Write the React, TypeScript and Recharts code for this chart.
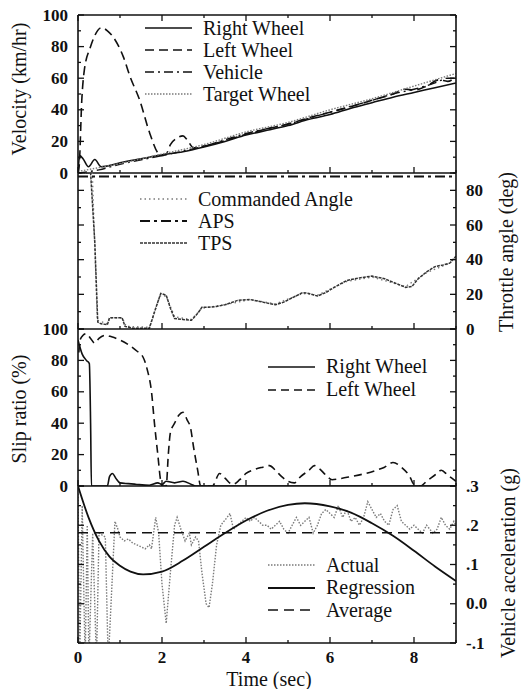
import React from 'react';
import { LineChart, Line, XAxis, YAxis, Legend } from 'recharts';

// time (sec) / value pairs, one list per trace
const velRightWheel: [number, number][] = [
  [0, 0], [0.04, 11], [0.12, 9], [0.25, 4], [0.4, 8.5], [0.55, 4], [0.8, 5], [1.0, 6.5], [1.5, 9],
  [2.0, 11.5], [2.5, 13.5], [3.0, 16.5], [3.5, 20], [4.0, 24], [4.5, 27], [5.0, 30], [5.5, 34],
  [6.0, 37], [6.5, 41], [7.0, 44.5], [7.5, 48], [8.0, 51], [8.5, 54], [9.0, 57],
];
const velLeftWheel: [number, number][] = [
  [0, 0], [0.03, 5], [0.09, 46], [0.15, 65], [0.3, 80], [0.4, 87], [0.56, 92], [0.7, 90], [0.84, 86],
  [1.08, 73.5], [1.24, 61], [1.47, 46], [1.71, 25], [1.91, 12.4], [2.0, 11], [2.1, 12], [2.2, 18],
  [2.35, 22], [2.5, 23.5], [2.6, 21], [2.75, 16], [3.0, 17], [3.5, 20.5], [4.0, 24.5], [4.5, 28],
  [5.0, 31], [5.5, 35], [6.0, 38.5], [6.5, 42], [7.0, 46], [7.5, 50], [7.8, 53], [8.0, 52.5],
  [8.3, 55], [8.6, 59], [8.8, 58], [9.0, 61],
];
const velVehicle: [number, number][] = [
  [0, 0], [0.5, 2], [1.0, 5.5], [2.0, 11], [3.0, 17], [4.0, 25], [5.0, 31], [6.0, 38.5],
  [7.0, 46], [7.5, 50], [8.0, 53], [8.5, 57], [8.8, 60], [9.0, 60],
];
const velTarget: [number, number][] = [
  [0, 1], [1, 6], [2, 12], [3, 18], [4, 26], [5, 32], [6, 40], [7, 47], [8, 55], [9, 63],
];

const thrCommanded: [number, number][] = [
  [0, 90], [0.34, 90], [0.46, 5], [0.7, 3], [0.76, 6.5], [1.05, 6.5], [1.15, 1.5], [1.7, 1],
  [1.95, 19], [2.1, 19], [2.3, 7], [2.7, 5.5], [2.95, 12], [3.5, 14], [4.1, 17], [4.7, 14.5],
  [5.35, 20.5], [5.7, 19.5], [6.4, 27.5], [7.0, 30], [7.8, 24.5], [8.3, 32.5], [8.85, 38], [9.0, 41],
];
const thrAPS: [number, number][] = [[0, 88], [9, 88]];
const thrTPS: [number, number][] = [
  [0, 90], [0.3, 90], [0.4, 50], [0.47, 4], [0.55, 3], [0.7, 2.5], [0.75, 6.5], [1.05, 6.5],
  [1.12, 1.5], [1.3, 0.5], [1.7, 0.5], [1.85, 12], [1.97, 20.5], [2.1, 19.5], [2.2, 12], [2.3, 6],
  [2.5, 5.5], [2.7, 5], [2.85, 9], [2.95, 12.5], [3.1, 12.5], [3.3, 13], [3.5, 14], [3.8, 16.5],
  [4.1, 17], [4.4, 15.5], [4.7, 14], [4.9, 15.5], [5.1, 18], [5.35, 21], [5.5, 20.5], [5.7, 19],
  [5.9, 21], [6.1, 24], [6.4, 28], [6.7, 29.5], [7.0, 30.5], [7.3, 29], [7.6, 26], [7.8, 24],
  [7.95, 24.5], [8.1, 29], [8.3, 33], [8.5, 36], [8.7, 37], [8.85, 38], [9.0, 42],
];

const slipRightWheel: [number, number][] = [
  [0, 93], [0.03, 90], [0.1, 84], [0.2, 80], [0.27, 78], [0.3, 40], [0.32, 0], [0.7, 0], [0.75, 6],
  [0.82, 8], [0.9, 5], [1.0, 2], [1.2, 1.5], [1.4, 1], [1.7, 0.5], [1.9, 2], [2.0, 1], [2.1, 3],
  [2.3, 2], [2.5, 3], [2.7, 1], [2.8, 0], [9.0, 0],
];
const slipLeftWheel: [number, number][] = [
  [0.02, 85], [0.05, 93], [0.12, 96], [0.2, 97], [0.3, 94], [0.4, 91], [0.5, 94], [0.65, 96],
  [0.8, 95], [1.0, 93], [1.2, 90], [1.4, 86], [1.55, 82], [1.65, 74], [1.75, 60], [1.82, 40],
  [1.9, 20], [1.97, 3], [2.0, 0], [2.1, 0], [2.15, 20], [2.2, 34], [2.3, 40], [2.4, 45], [2.5, 47],
  [2.6, 42], [2.68, 37], [2.75, 25], [2.85, 10], [2.92, 0], [3.2, 0], [3.37, 8], [3.5, 5],
  [3.68, 1], [3.85, 4], [4.0, 8], [4.2, 10.5], [4.4, 12], [4.56, 13], [4.7, 10], [4.85, 6],
  [5.0, 3], [5.15, 2], [5.3, 6], [5.5, 10], [5.63, 13], [5.75, 11], [5.9, 7], [6.05, 4],
  [6.2, 4.5], [6.5, 6], [6.85, 8], [7.1, 10], [7.3, 12], [7.5, 15], [7.7, 12], [7.9, 6], [8.0, 1],
  [8.15, 0], [8.3, 3], [8.5, 7], [8.65, 10], [8.8, 7], [9.0, 3],
];

const accActual: [number, number][] = [
  [0, 0.28], [0.04, -0.15], [0.1, 0.25], [0.17, -0.15], [0.22, 0.2], [0.26, -0.15], [0.35, 0.18],
  [0.44, -0.15], [0.5, 0.18], [0.65, 0.17], [0.72, -0.15], [0.88, 0.21], [0.95, 0.19], [1.0, 0.17],
  [1.1, 0.16], [1.2, 0.165], [1.3, 0.155], [1.4, 0.15], [1.5, 0.145], [1.6, 0.14], [1.7, 0.15],
  [1.75, 0.14], [1.85, 0.22], [1.92, 0.18], [2.0, 0.05], [2.1, -0.05], [2.2, 0.08], [2.3, 0.2],
  [2.36, 0.22], [2.45, 0.19], [2.55, 0.16], [2.65, 0.18], [2.7, 0.15], [2.8, 0.17], [2.87, 0.16],
  [2.95, 0.08], [3.05, 0.0], [3.12, -0.01], [3.2, 0.05], [3.3, 0.15], [3.4, 0.2], [3.55, 0.22],
  [3.62, 0.23], [3.7, 0.19], [3.8, 0.2], [3.9, 0.21], [4.0, 0.22], [4.1, 0.21], [4.2, 0.22],
  [4.3, 0.21], [4.4, 0.2], [4.5, 0.2], [4.6, 0.19], [4.7, 0.2], [4.8, 0.21], [4.9, 0.19],
  [5.0, 0.18], [5.1, 0.2], [5.2, 0.22], [5.3, 0.2], [5.4, 0.21], [5.5, 0.22], [5.6, 0.18],
  [5.7, 0.2], [5.8, 0.23], [5.9, 0.24], [6.0, 0.23], [6.1, 0.22], [6.2, 0.25], [6.3, 0.22],
  [6.4, 0.24], [6.5, 0.21], [6.6, 0.22], [6.7, 0.2], [6.8, 0.22], [6.9, 0.26], [7.0, 0.24],
  [7.1, 0.22], [7.2, 0.23], [7.3, 0.21], [7.4, 0.2], [7.5, 0.24], [7.6, 0.25], [7.7, 0.21],
  [7.8, 0.2], [7.9, 0.19], [8.0, 0.2], [8.1, 0.19], [8.2, 0.18], [8.3, 0.2], [8.45, 0.18],
  [8.55, 0.19], [8.65, 0.22], [8.75, 0.2], [8.85, 0.19], [8.95, 0.21], [9.0, 0.2],
];
const accRegression: [number, number][] = [
  [0, 0.3], [0.25, 0.22], [0.5, 0.16], [0.75, 0.12], [1.0, 0.097], [1.25, 0.082], [1.55, 0.075],
  [2.0, 0.082], [2.5, 0.11], [3.0, 0.145], [3.5, 0.18], [4.0, 0.212], [4.5, 0.237], [5.0, 0.252],
  [5.4, 0.256], [6.0, 0.248], [6.5, 0.232], [7.0, 0.205], [7.5, 0.173], [8.0, 0.135], [8.5, 0.095],
  [9.0, 0.058],
];
const accAverage: [number, number][] = [[0, 0.181], [9, 0.181]];

const timeTicks = [0, 1, 2, 3, 4, 5, 6, 7, 8, 9];
const pctTicks = [0, 10, 20, 30, 40, 50, 60, 70, 80, 90, 100];
const throttleTicks = [0, 10, 20, 30, 40, 50, 60, 70, 80, 90];
const accTicks = [-0.1, -0.05, 0, 0.05, 0.1, 0.15, 0.2, 0.25, 0.3];
const accLabels: Record<string, string> = { '-0.1': '-.1', '0': '0.0', '0.1': '.1', '0.2': '.2', '0.3': '.3' };

const W = 523;
const H = 689;
const PL = 78;
const PR = 456;
const FONT = '"Liberation Serif", "Times New Roman", serif';
const INK = '#111';
const GREY = '#7a7a7a';

const pts = (a: [number, number][]) => a.map(([t, v]) => ({ t, v }));

type Series = { name: string; data: [number, number][]; stroke: string; width: number; dash?: string; curve?: 'linear' | 'monotone' };

const isMajor = (v: number, step: number) => Math.abs(v / step - Math.round(v / step)) < 1e-6;

const yTick = (side: 'left' | 'right', step: number, labels: boolean, fmt?: (v: number) => string) => (props: any) => {
  const { y, payload } = props;
  const v = payload.value as number;
  const major = isMajor(v, step);
  const x0 = side === 'left' ? PL : PR;
  const dir = side === 'left' ? 1 : -1;
  return (
    <g>
      <line x1={x0} x2={x0 + dir * (major ? 6 : 3)} y1={y} y2={y} stroke={INK} strokeWidth={1.3} />
      {labels && major && (
        <text x={side === 'left' ? PL - 10 : PR + 10} y={y} textAnchor={side === 'left' ? 'end' : 'start'}
          dominantBaseline="central" fontFamily={FONT} fontWeight="bold" fontSize={17} fill={INK}>
          {fmt ? fmt(v) : v}
        </text>
      )}
    </g>
  );
};

const xTick = (edge: number, dir: number, labels: boolean) => (props: any) => {
  const { x, payload } = props;
  const v = payload.value as number;
  const major = isMajor(v, 2);
  return (
    <g>
      <line x1={x} x2={x} y1={edge} y2={edge + dir * (major ? 6 : 3)} stroke={INK} strokeWidth={1.3} />
      {labels && major && v < 9 && (
        <text x={x} y={edge + 14} textAnchor="middle" dominantBaseline="central"
          fontFamily={FONT} fontWeight="bold" fontSize={17} fill={INK}>{v}</text>
      )}
    </g>
  );
};

const vTitle = (text: string, x: number, y: number) => () => (
  <text x={x} y={y} transform={`rotate(-90 ${x} ${y})`} textAnchor="middle" dominantBaseline="central"
    fontFamily={FONT} fontSize={20} fill={INK}>{text}</text>
);

const LegendRows = ({ items, gap }: { items: Series[]; gap: number }) => (
  <div style={{ fontFamily: FONT, fontSize: 20, color: INK }}>
    {items.map((s) => (
      <div key={s.name} style={{ display: 'flex', alignItems: 'center', height: gap, whiteSpace: 'nowrap' }}>
        <svg width={58} height={6} style={{ flex: 'none' }}>
          <line x1={0} x2={47} y1={3} y2={3} stroke={s.stroke} strokeWidth={s.width} strokeDasharray={s.dash} />
        </svg>
        <span>{s.name}</span>
      </div>
    ))}
  </div>
);

type PanelProps = {
  top: number; bottom: number; domain: [number, number]; ticks: number[]; step: number;
  leftLabels?: boolean; rightLabels?: boolean; fmt?: (v: number) => string;
  series: Series[]; legendAt: { left: number; top: number; gap: number };
  topAxis?: boolean; xLabels?: boolean; leftTitle?: [string, number, number]; rightTitle?: [string, number, number];
};

const Panel = (p: PanelProps) => {
  const margin = { left: PL - 10, right: W - PR - 10, top: p.topAxis ? p.top - 10 : p.top, bottom: H - p.bottom - 10 };
  return (
    <div style={{ position: 'absolute', left: 0, top: 0 }}>
      <LineChart width={W} height={H} margin={margin}>
        {p.topAxis && (
          <XAxis xAxisId="top" orientation="top" type="number" dataKey="t" domain={[0, 9]} allowDataOverflow
            ticks={timeTicks} interval={0} height={10} tickLine={false} tick={xTick(p.top, 1, false)}
            axisLine={{ stroke: INK, strokeWidth: 1.6 }} />
        )}
        <XAxis xAxisId="x" type="number" dataKey="t" domain={[0, 9]} allowDataOverflow ticks={timeTicks}
          interval={0} height={10} tickLine={false} tick={xTick(p.bottom, -1, !!p.xLabels)}
          axisLine={{ stroke: INK, strokeWidth: 1.6 }}
          label={p.xLabels ? () => (
            <text x={269} y={679} textAnchor="middle" dominantBaseline="central" fontFamily={FONT} fontSize={20} fill={INK}>Time (sec)</text>
          ) : undefined} />
        <YAxis yAxisId="l" type="number" domain={p.domain} allowDataOverflow ticks={p.ticks} interval={0}
          width={10} tickLine={false} tick={yTick('left', p.step, !!p.leftLabels, p.fmt)}
          axisLine={{ stroke: INK, strokeWidth: 1.6 }}
          label={p.leftTitle ? vTitle(...p.leftTitle) : undefined} />
        <YAxis yAxisId="r" orientation="right" type="number" domain={p.domain} allowDataOverflow ticks={p.ticks}
          interval={0} width={10} tickLine={false} tick={yTick('right', p.step, !!p.rightLabels, p.fmt)}
          axisLine={{ stroke: INK, strokeWidth: 1.6 }}
          label={p.rightTitle ? vTitle(...p.rightTitle) : undefined} />
        {p.series.map((s) => (
          <Line key={s.name} xAxisId="x" yAxisId="l" data={pts(s.data)} dataKey="v" name={s.name}
            type={s.curve || 'linear'} stroke={s.stroke} strokeWidth={s.width} strokeDasharray={s.dash}
            dot={false} activeDot={false} isAnimationActive={false} />
        ))}
        <Legend layout="vertical" align="center" verticalAlign="middle"
          wrapperStyle={{ left: p.legendAt.left, top: p.legendAt.top, width: 'auto', height: 'auto' }}
          content={() => <LegendRows items={p.series} gap={p.legendAt.gap} />} />
      </LineChart>
    </div>
  );
};

const velocitySeries: Series[] = [
  { name: 'Right Wheel', data: velRightWheel, stroke: INK, width: 1.6, curve: 'monotone' },
  { name: 'Left Wheel', data: velLeftWheel, stroke: INK, width: 1.6, dash: '9 5', curve: 'monotone' },
  { name: 'Vehicle', data: velVehicle, stroke: INK, width: 1.4, dash: '9 4 2 4', curve: 'monotone' },
  { name: 'Target Wheel', data: velTarget, stroke: GREY, width: 1.4, dash: '1.5 1.5', curve: 'monotone' },
];
const throttleSeries: Series[] = [
  { name: 'Commanded Angle', data: thrCommanded, stroke: GREY, width: 1.4, dash: '1.5 3' },
  { name: 'APS', data: thrAPS, stroke: INK, width: 2, dash: '10 4 3 4' },
  { name: 'TPS', data: thrTPS, stroke: '#333', width: 1.5, dash: '3 1' },
];
const slipSeries: Series[] = [
  { name: 'Right Wheel', data: slipRightWheel, stroke: INK, width: 1.6, curve: 'monotone' },
  { name: 'Left Wheel', data: slipLeftWheel, stroke: INK, width: 1.6, dash: '8 5', curve: 'monotone' },
];
const accelSeries: Series[] = [
  { name: 'Actual', data: accActual, stroke: GREY, width: 1.4, dash: '1.5 1.5' },
  { name: 'Regression', data: accRegression, stroke: INK, width: 1.8, curve: 'monotone' },
  { name: 'Average', data: accAverage, stroke: INK, width: 1.6, dash: '10 6' },
];

export default function App() {
  return (
    <div style={{ position: 'absolute', left: 0, top: 0, width: W, height: H, background: '#fff' }}>
      <Panel top={15} bottom={173} domain={[0, 100]} ticks={pctTicks} step={20} leftLabels topAxis
        series={velocitySeries} legendAt={{ left: 145, top: 17, gap: 22 }}
        leftTitle={['Velocity (km/hr)', 19, 89]} />
      <Panel top={173} bottom={329} domain={[0, 90]} ticks={throttleTicks} step={20} rightLabels
        series={throttleSeries} legendAt={{ left: 140, top: 188, gap: 22 }}
        rightTitle={['Throttle angle (deg)', 506, 252]} />
      <Panel top={329} bottom={486} domain={[0, 100]} ticks={pctTicks} step={20} leftLabels
        series={slipSeries} legendAt={{ left: 268, top: 355, gap: 23 }}
        leftTitle={['Slip ratio (%)', 19, 409]} />
      <Panel top={486} bottom={643} domain={[-0.1, 0.3]} ticks={accTicks} step={0.1} rightLabels xLabels
        fmt={(v) => accLabels[String(Math.round(v * 10) / 10)] ?? ''}
        series={accelSeries} legendAt={{ left: 268, top: 554, gap: 22.5 }}
        rightTitle={['Vehicle acceleration (g)', 508, 563]} />
    </div>
  );
}
